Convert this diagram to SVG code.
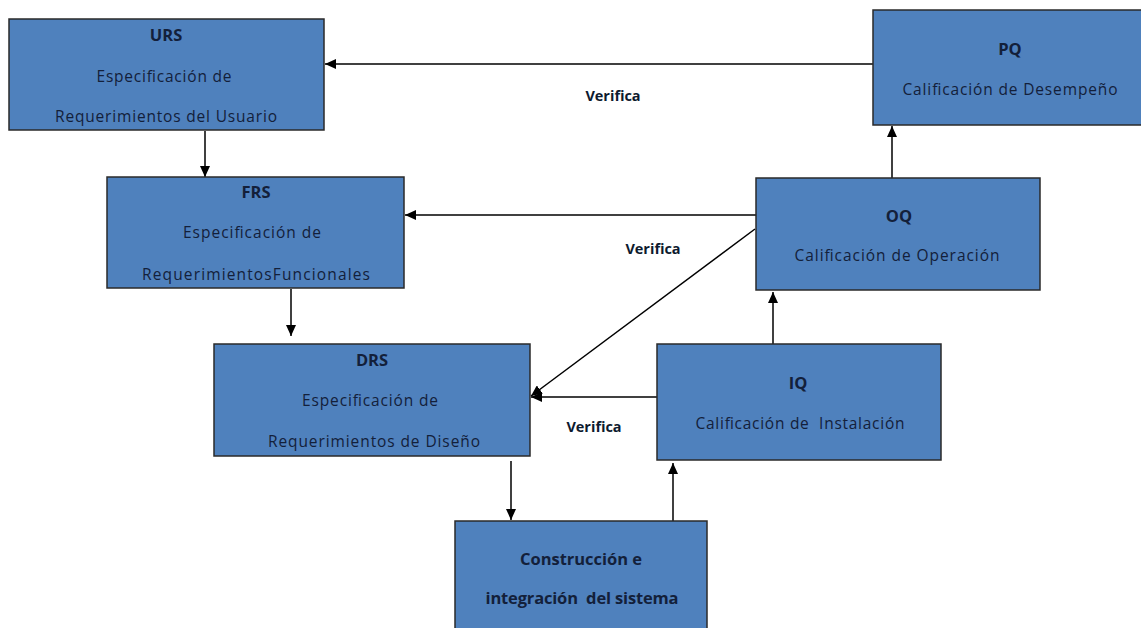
<svg xmlns="http://www.w3.org/2000/svg" width="1141" height="628" viewBox="0 0 1141 628">
<style>
.box{fill:#4f81bd;stroke:#2a2a2a;stroke-width:1.5}
.t{font-family:"Open Sans","Liberation Sans",sans-serif;font-size:15.5px;fill:#13203a;text-anchor:middle}
.b{font-weight:bold;font-size:16.5px}
.lbl{font-family:"Open Sans","Liberation Sans",sans-serif;font-size:14.5px;font-weight:bold;fill:#0d1a2e;text-anchor:middle}
.c{stroke:#000;stroke-width:1.5;fill:none;marker-end:url(#ah)}
</style>
<defs>
<marker id="ah" markerUnits="userSpaceOnUse" markerWidth="12" markerHeight="10" refX="11" refY="5" orient="auto">
<path d="M0,0 L11,5 L0,10 Z" fill="#000"/>
</marker>
</defs>
<rect width="1141" height="628" fill="#fff"/>
<g id="connectors">
<line class="c" x1="873" y1="64" x2="325" y2="64"/>
<line class="c" x1="205" y1="131" x2="205" y2="177"/>
<line class="c" x1="291" y1="289" x2="291" y2="336"/>
<line class="c" x1="756" y1="215" x2="405" y2="215"/>
<line class="c" x1="755" y1="229" x2="531" y2="396"/>
<line class="c" x1="657" y1="397" x2="531" y2="397"/>
<line class="c" x1="773" y1="344" x2="773" y2="292"/>
<line class="c" x1="892" y1="178" x2="892" y2="126"/>
<line class="c" x1="511" y1="461" x2="511" y2="520"/>
<line class="c" x1="673" y1="521" x2="673" y2="463"/>
<text class="lbl" x="613" y="101">Verifica</text>
<text class="lbl" x="653" y="254">Verifica</text>
<text class="lbl" x="594" y="432">Verifica</text>
</g>
<g id="urs">
<rect class="box" x="9" y="19" width="315" height="111"/>
<text class="t b" x="166" y="41">URS</text>
<text class="t" x="164" y="82" textLength="135">Especificación de</text>
<text class="t" x="166" y="122" textLength="222">Requerimientos del Usuario</text>
</g>
<g id="pq">
<rect class="box" x="873" y="10" width="272" height="115"/>
<text class="t b" x="1010" y="55">PQ</text>
<text class="t" x="1010" y="95" textLength="215">Calificación de Desempeño</text>
</g>
<g id="frs">
<rect class="box" x="107" y="177" width="297" height="111"/>
<text class="t b" x="256" y="198">FRS</text>
<text class="t" x="252" y="238" textLength="138">Especificación de</text>
<text class="t" x="256" y="280" textLength="228">RequerimientosFuncionales</text>
</g>
<g id="oq">
<rect class="box" x="756" y="178" width="284" height="112"/>
<text class="t b" x="899" y="222">OQ</text>
<text class="t" x="897" y="261" textLength="205">Calificación de Operación</text>
</g>
<g id="drs">
<rect class="box" x="214" y="344" width="316" height="112"/>
<text class="t b" x="372" y="366">DRS</text>
<text class="t" x="370" y="406" textLength="136">Especificación de</text>
<text class="t" x="374" y="447" textLength="212">Requerimientos de Diseño</text>
</g>
<g id="iq">
<rect class="box" x="657" y="344" width="284" height="116"/>
<text class="t b" x="798" y="389">IQ</text>
<text class="t" x="800" y="429" textLength="209" xml:space="preserve">Calificación de  Instalación</text>
</g>
<g id="construccion">
<rect class="box" x="455" y="521" width="252" height="115"/>
<text class="t b" x="581" y="565" textLength="122">Construcción e</text>
<text class="t b" x="582" y="604" textLength="193" xml:space="preserve">integración  del sistema</text>
</g>
</svg>
